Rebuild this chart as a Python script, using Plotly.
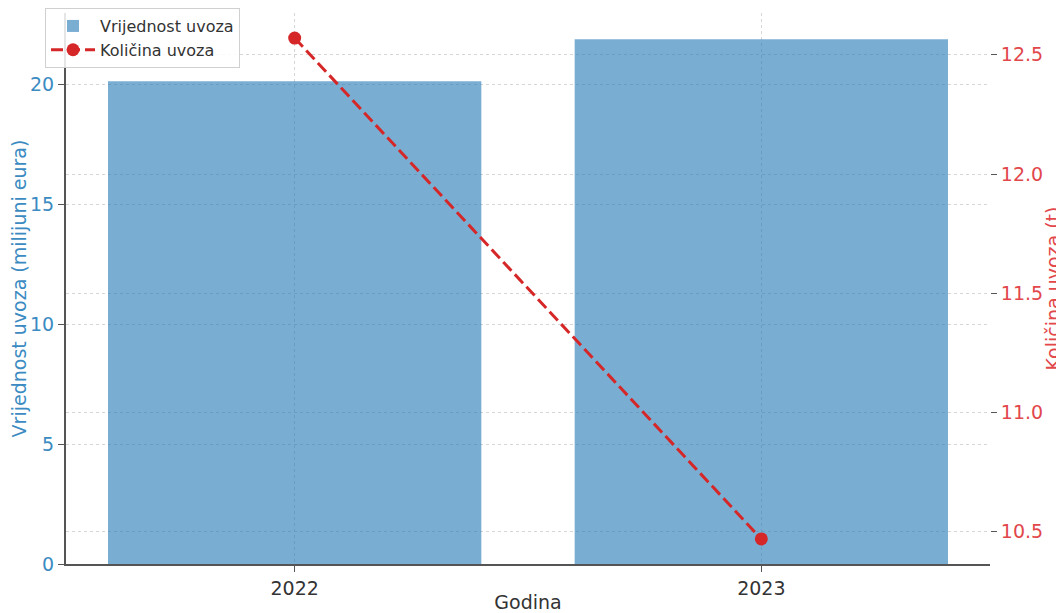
import plotly.graph_objects as go

years = ["2022", "2023"]
value_meur = [20.15, 21.9]
quantity_t = [12.57, 10.47]

BLUE_BAR = "rgba(31,119,180,0.6)"
BLUE_TXT = "#3b8bc2"
RED = "#d62728"
RED_TXT = "#e2474b"
FONT = "DejaVu Sans"
FS = 19

fig = go.Figure()
fig.add_trace(go.Bar(
    x=years, y=value_meur, name="Vrijednost uvoza",
    marker=dict(color=BLUE_BAR, line=dict(width=0)), width=0.8,
    yaxis="y",
))
fig.add_trace(go.Scatter(
    x=years, y=quantity_t, name="Količina uvoza",
    mode="lines+markers",
    line=dict(color=RED, width=3, dash="12px,5px"),
    marker=dict(color=RED, size=13),
    yaxis="y2",
))

fig.update_layout(
    width=1056, height=605,
    margin=dict(l=58, r=74, t=5, b=49, autoexpand=False),
    paper_bgcolor="white", plot_bgcolor="white",
    font=dict(family=FONT, size=FS, color="#333333"),
    showlegend=True,
    legend=dict(
        x=-0.0227, y=1.009, xanchor="left", yanchor="top",
        bgcolor="rgba(255,255,255,0.85)", bordercolor="#d0d0d0", borderwidth=1,
        font=dict(size=16, color="#333333"),
        tracegroupgap=1, itemwidth=44,
    ),
    xaxis=dict(
        type="category", range=[-0.49, 1.49],
        showgrid=True, gridcolor="#d6d6d6", griddash="dot", gridwidth=1,
        showline=True, linecolor="#555555", linewidth=2,
        ticks="outside", ticklen=6, tickcolor="#555555",
        tickfont=dict(size=FS, color="#333333"),
        title=dict(text="Godina", font=dict(size=FS, color="#333333"), standoff=4),
        zeroline=False,
    ),
    yaxis=dict(
        range=[0, 22.995],
        tickvals=[0, 5, 10, 15, 20],
        showgrid=True, gridcolor="#d6d6d6", griddash="dot", gridwidth=1,
        showline=True, linecolor="#555555", linewidth=2,
        ticks="outside", ticklen=6, tickcolor="#555555",
        tickfont=dict(size=FS, color=BLUE_TXT),
        title=dict(text="Vrijednost uvoza (milijuni eura)", font=dict(size=FS, color=BLUE_TXT), standoff=8),
        zeroline=False,
    ),
    yaxis2=dict(
        overlaying="y", side="right",
        range=[10.365, 12.675],
        tickvals=[10.5, 11.0, 11.5, 12.0, 12.5], tickformat=".1f",
        showgrid=True, gridcolor="#d6d6d6", griddash="dot", gridwidth=1,
        showline=False,
        ticks="outside", ticklen=6, tickcolor="#555555",
        tickfont=dict(size=FS, color=RED_TXT),
        title=dict(text="Količina uvoza (t)", font=dict(size=FS, color=RED_TXT), standoff=2),
        zeroline=False,
    ),
)

fig.write_html("out.html")
